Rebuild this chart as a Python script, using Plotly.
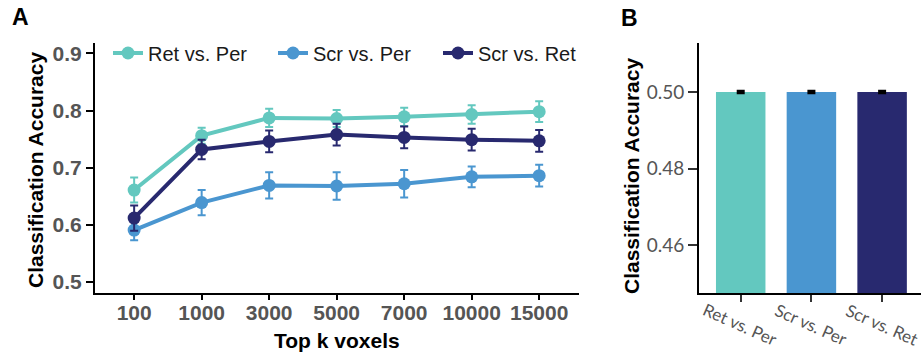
import plotly.graph_objects as go

# ---------------- data ----------------
k_labels = ["100", "1000", "3000", "5000", "7000", "10000", "15000"]

ret_per = [0.661, 0.756, 0.787, 0.786, 0.789, 0.793, 0.798]
ret_per_err = [0.022, 0.014, 0.016, 0.015, 0.016, 0.016, 0.018]

scr_per = [0.591, 0.639, 0.669, 0.668, 0.672, 0.684, 0.686]
scr_per_err = [0.018, 0.022, 0.023, 0.024, 0.024, 0.018, 0.019]

scr_ret = [0.612, 0.732, 0.746, 0.758, 0.753, 0.749, 0.747]
scr_ret_err = [0.022, 0.017, 0.019, 0.019, 0.019, 0.019, 0.019]

series_names = ["Ret vs. Per", "Scr vs. Per", "Scr vs. Ret"]
colors = ["#63C8BF", "#4A96D0", "#28296F"]

bar_labels = ["Ret vs. Per", "Scr vs. Per", "Scr vs. Ret"]
bar_values = [0.5, 0.5, 0.5]
bar_errors = [0.0002, 0.0002, 0.0002]

W, H = 922, 356

def px(x):
    return x / W

def py(y):
    return 1 - y / H

fig = go.Figure()

for name, vals, errs, col in zip(series_names,
                                 [ret_per, scr_per, scr_ret],
                                 [ret_per_err, scr_per_err, scr_ret_err],
                                 colors):
    fig.add_trace(go.Scatter(
        x=k_labels, y=vals, name=name, mode="lines+markers",
        line=dict(color=col, width=4),
        marker=dict(color=col, size=13),
        error_y=dict(type="data", array=errs, color=col, thickness=2, width=4),
        xaxis="x", yaxis="y",
    ))

fig.add_trace(go.Bar(
    x=bar_labels, y=bar_values, marker=dict(color=colors, line=dict(width=0)),
    width=0.7, showlegend=False,
    error_y=dict(type="data", array=bar_errors, color="black", thickness=3, width=4),
    xaxis="x2", yaxis="y2",
))

tickfontB = dict(family="Lato", size=19, color="#555555")

fig.update_layout(
    width=W, height=H,
    margin=dict(l=0, r=0, t=0, b=0),
    paper_bgcolor="white", plot_bgcolor="white",
    showlegend=True,
    legend=dict(orientation="h", x=px(108), y=py(53), xanchor="left", yanchor="middle",
                font=dict(family="Liberation Sans, Arial", size=20, color="#1a1a1a"),
                entrywidth=120, bgcolor="rgba(0,0,0,0)", itemclick=False),
    xaxis=dict(domain=[px(95), px(579)], type="category", range=[-0.58, 6.59],
               showline=True, linecolor="black", linewidth=2, ticks="outside",
               ticklen=5, tickwidth=2, tickcolor="black", showgrid=False, zeroline=False,
               ticklabelstandoff=-5,
               tickfont=dict(family="Liberation Sans, Arial", size=21, color="#555555", weight="bold"),
               anchor="y", fixedrange=True),
    yaxis=dict(domain=[py(293), py(43)], range=[0.481, 0.918],
               tickvals=[0.5, 0.6, 0.7, 0.8, 0.9], ticktext=["0.5", "0.6", "0.7", "0.8", "0.9"],
               showline=True, linecolor="black", linewidth=2, ticks="outside",
               ticklen=7, tickwidth=2, tickcolor="black", showgrid=False, zeroline=False,
               tickfont=dict(family="Liberation Sans, Arial", size=21, color="#555555", weight="bold"),
               anchor="x"),
    xaxis2=dict(domain=[px(699), px(921)], type="category", range=[-0.59, 2.55],
                showline=True, linecolor="black", linewidth=2, ticks="outside",
                ticklen=7, tickwidth=2, tickcolor="#333333", showgrid=False, zeroline=False,
                showticklabels=False, anchor="y2"),
    yaxis2=dict(domain=[py(293), py(43)], range=[0.4475, 0.5128],
                tickvals=[0.46, 0.48, 0.50], ticktext=["0.46", "0.48", "0.50"],
                showline=True, linecolor="black", linewidth=2, ticks="outside",
                ticklen=9, tickwidth=2, tickcolor="#333333", showgrid=False, zeroline=False,
                tickfont=tickfontB, anchor="x2"),
)

ann = []
titlefont = dict(family="Liberation Sans, Arial", size=21, color="black", weight="bold")
ann.append(dict(text="Classification Accuracy", x=px(36), y=py(170), xref="paper", yref="paper",
                textangle=-90, showarrow=False, font=titlefont, xanchor="center", yanchor="middle"))
ann.append(dict(text="Classification Accuracy", x=px(631), y=py(176), xref="paper", yref="paper",
                textangle=-90, showarrow=False, font=titlefont, xanchor="center", yanchor="middle"))
ann.append(dict(text="Top k voxels", x=px(337), y=py(340), xref="paper", yref="paper",
                showarrow=False, font=titlefont, xanchor="center", yanchor="middle"))
ann.append(dict(text="A", x=px(20), y=py(17), xref="paper", yref="paper",
                showarrow=False, font=dict(family="Liberation Sans, Arial", size=23, color="black", weight="bold"),
                xanchor="center", yanchor="middle"))
ann.append(dict(text="B", x=px(629), y=py(18), xref="paper", yref="paper",
                showarrow=False, font=dict(family="Liberation Sans, Arial", size=23, color="black", weight="bold"),
                xanchor="center", yanchor="middle"))
for lab in bar_labels:
    ann.append(dict(text=lab, x=lab, xref="x2", y=py(324), yref="paper", textangle=24,
                    showarrow=False, font=dict(family="Lato", size=17, color="#555555"),
                    xanchor="center", yanchor="middle"))
fig.update_layout(annotations=ann)

fig.write_html("out.html")
